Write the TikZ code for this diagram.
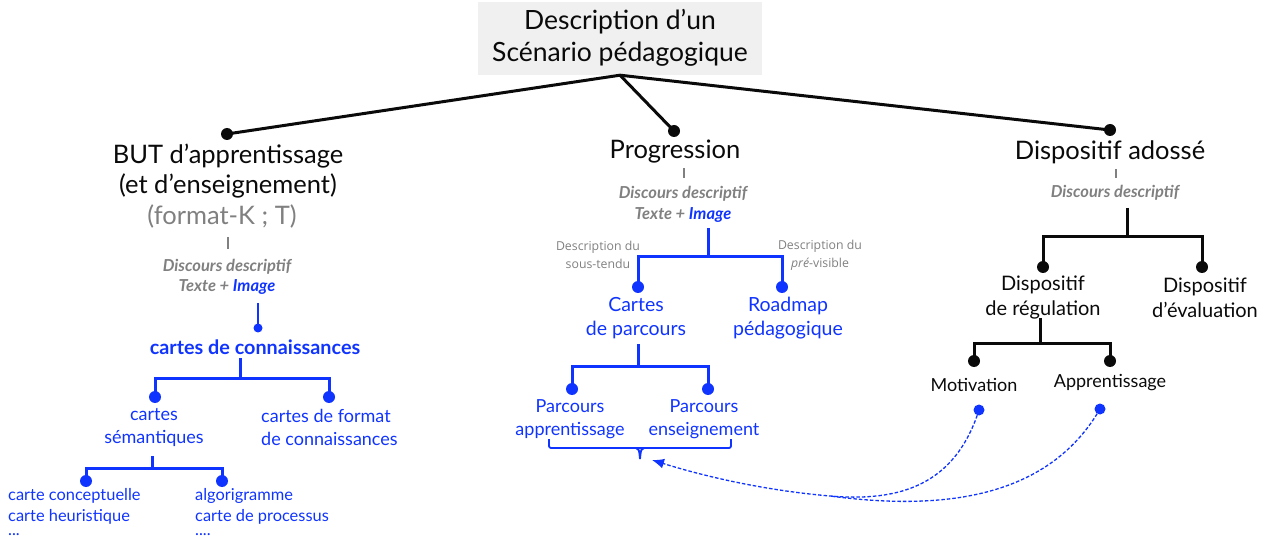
\documentclass[tikz,border=0pt]{standalone}
\usepackage{fontspec}
\setmainfont{Lato}
\newfontfamily\osans{Open Sans}
\usetikzlibrary{arrows.meta}
\definecolor{myblue}{RGB}{16,52,255}
\definecolor{txtgray}{RGB}{128,128,128}
\definecolor{boxgray}{RGB}{240,240,240}
\definecolor{ink}{RGB}{10,10,10}
\tikzset{
  blk/.style={line width=3pt, draw=ink},
  blu/.style={line width=3pt, draw=myblue},
  tick/.style={line width=2pt, draw=txtgray},
  bdot/.style={circle, fill=ink, inner sep=0pt, minimum size=12pt},
  udot/.style={circle, fill=myblue, inner sep=0pt, minimum size=12pt},
  head/.style={inner sep=0pt, align=center, text=ink, font=\fontsize{25.5}{30}\selectfont},
  sub/.style={inner sep=0pt, align=center, text=ink, font=\fontsize{20}{25}\selectfont},
  bsub/.style={inner sep=0pt, align=center, text=myblue, font=\fontsize{19.5}{24}\selectfont},
  bsmall/.style={inner sep=0pt, align=center, text=myblue, font=\fontsize{18}{23}\selectfont},
  blist/.style={inner sep=0pt, align=left, anchor=north west, text=myblue, font=\fontsize{16.4}{21}\selectfont},
  disc/.style={inner sep=0pt, align=center, text=txtgray, font=\fontsize{16.5}{20.5}\selectfont\itshape\bfseries},
  note/.style={inner sep=0pt, align=center, text=txtgray, font=\osans\fontsize{12.3}{18}\selectfont},
  link/.style={line width=1.3pt, draw=myblue, dash pattern=on 3.5pt off 2pt},
  linkarrow/.style={link, -{Latex[length=12pt,width=10pt]}}
}
\begin{document}
\begin{tikzpicture}[x=1pt,y=-1pt]
\useasboundingbox (0,0) rectangle (1262,540);
% root
\node[fill=boxgray, minimum width=284pt, minimum height=73pt, inner sep=0pt] (root) at (620,38.5) {};
\node[head, font=\fontsize{26.5}{32}\selectfont] (roottxt) at (620,38) {Description d’un\\Scénario pédagogique};
\node[bdot] (dBut) at (227,134) {};
\node[bdot] (dProg) at (674,131) {};
\node[bdot] (dDisp) at (1110,130) {};
\draw[blk] (root.south) -- (dBut.center);
\draw[blk] (root.south) -- (dProg.center);
\draw[blk] (root.south) -- (dDisp.center);

% ---------- BUT branch
\node[head] (but) at (228,171.5) {BUT d’apprentissage\\(et d’enseignement)};
\node[head, text=txtgray] (fmt) at (222,216) {(format-K ; T)};
\coordinate (t1a) at (228,237); \coordinate (t1b) at (228,249);
\draw[tick] (t1a) -- (t1b);
\node[disc] (disc1) at (227,277) {Discours descriptif\\Texte + \textcolor{myblue}{Image}};
\coordinate (b1) at (258,303);
\node[udot, minimum size=9pt] (d1) at (258,328) {};
\draw[blu, line width=2pt] (b1) -- (d1.center);
\node[inner sep=0pt, text=myblue, font=\fontsize{19.8}{22}\selectfont\bfseries] (kc) at (255,347) {cartes de connaissances};
\coordinate (j1) at (240,358); \coordinate (h1) at (240,378);
\node[udot] (dSem) at (155,397) {};
\node[udot] (dFmt) at (329,397) {};
\draw[blu] (j1) -- (h1);
\draw[blu] (dSem.center) |- (h1) -| (dFmt.center);
\node[bsmall] (sem) at (154,427.5) {cartes\\sémantiques};
\node[bsmall, align=left, anchor=west] (cfk) at (261,427.5) {cartes de format\\de connaissances};
\coordinate (j2) at (152,456); \coordinate (h2) at (152,468);
\node[udot] (dCC) at (86,481) {};
\node[udot] (dAl) at (222,481) {};
\draw[blu] (j2) -- (h2);
\draw[blu] (dCC.center) |- (h2) -| (dAl.center);
\node[blist] (l1) at (8,488) {carte conceptuelle\\carte heuristique\\[-7pt]...};
\node[blist] (l2) at (195,488) {algorigramme\\carte de processus\\[-7pt]....};

% ---------- Progression branch
\node[head] (prog) at (675,152) {Progression};
\coordinate (t2a) at (684,168); \coordinate (t2b) at (684,178);
\draw[tick] (t2a) -- (t2b);
\node[disc] (disc2) at (683,204.5) {Discours descriptif\\Texte + \textcolor{myblue}{Image}};
\coordinate (j3) at (708,228); \coordinate (h3) at (708,257);
\node[udot] (dCP) at (638,287) {};
\node[udot] (dRM) at (782,287) {};
\draw[blu] (j3) -- (h3);
\draw[blu] (dCP.center) |- (h3) -| (dRM.center);
\node[note] (n1) at (598,255) {Description du\\sous-tendu};
\node[note] (n2) at (820,255) {Description du\\\textit{pré}-visible};
\node[bsub] (cp) at (636,318) {Cartes\\de parcours};
\node[bsub] (rm) at (788,318) {Roadmap\\pédagogique};
\coordinate (j4) at (638,344); \coordinate (h4) at (638,366);
\node[udot] (dPA) at (572,389) {};
\node[udot] (dPE) at (708,389) {};
\draw[blu] (j4) -- (h4);
\draw[blu] (dPA.center) |- (h4) -| (dPE.center);
\node[bsmall] (pa) at (570,419) {Parcours\\apprentissage};
\node[bsmall] (pe) at (704,419) {Parcours\\enseignement};
% brace
\coordinate (brL) at (549,439); \coordinate (brR) at (731,439);
\coordinate (brM) at (640,448); \coordinate (brT) at (640,459);
\coordinate (brA) at (636,448); \coordinate (brB) at (644,448);
\draw[myblue, line width=1.8pt, rounded corners=2pt] (brL) |- (brM) -| (brR);
\draw[myblue, line width=1.8pt] (brA) .. controls (639,449) .. (brT);
\draw[myblue, line width=1.8pt] (brB) .. controls (641,449) .. (brT);
\coordinate (target) at (652,460);
\coordinate (merge) at (830,496);

% ---------- Dispositif branch
\node[head] (disp) at (1110,152) {Dispositif adossé};
\coordinate (t3a) at (1116,169); \coordinate (t3b) at (1116,178);
\draw[tick] (t3a) -- (t3b);
\node[disc] (disc3) at (1115,193) {Discours descriptif};
\coordinate (j5) at (1127,208); \coordinate (h5) at (1127,237);
\node[bdot] (dReg) at (1043,267) {};
\node[bdot] (dEva) at (1202,267) {};
\draw[blk] (j5) -- (h5);
\draw[blk] (dReg.center) |- (h5) -| (dEva.center);
\node[sub] (reg) at (1043,297.5) {Dispositif\\de régulation};
\node[sub] (eva) at (1205,297.5) {Dispositif\\d’évaluation};
\coordinate (j6) at (1040,318); \coordinate (h6) at (1040,343);
\node[bdot] (dMot) at (974,361) {};
\node[bdot] (dApp) at (1110,361) {};
\draw[blk] (j6) -- (h6);
\draw[blk] (dMot.center) |- (h6) -| (dApp.center);
\node[sub, font=\fontsize{18}{22}\selectfont] (mot) at (974,385) {Motivation};
\node[sub, font=\fontsize{18}{22}\selectfont] (app) at (1110,383) {Apprentissage};
\node[udot, minimum size=11pt] (uMot) at (979,410) {};
\node[udot, minimum size=11pt] (uApp) at (1100,409) {};
\draw[linkarrow] (uMot.center) .. controls (955,485) and (900,502) .. (merge) .. controls (760,490) and (700,475) .. (target);
\draw[link] (uApp.center) .. controls (1050,495) and (950,512) .. (merge);
\end{tikzpicture}
\end{document}
